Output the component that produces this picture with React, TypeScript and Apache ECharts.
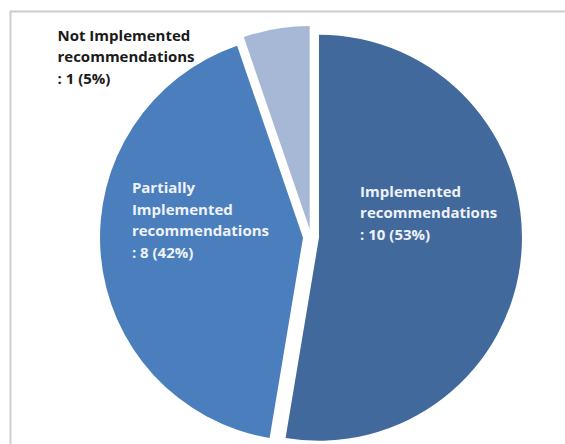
import React, { useEffect, useRef } from "react";
import * as echarts from "echarts";

const categories = [
  "Implemented\nrecommendations",
  "Partially\nImplemented\nrecommendations",
  "Not Implemented\nrecommendations",
];
const values = [10, 8, 1];
const colors = ["#41699c", "#4b7ebc", "#a7b8d6"];
const labelColors = ["#eef2f8", "#eef2f8", "#1a1a1a"];

// label shifts from the library's default inside position, in pixels
const labelShifts: [number, number][] = [
  [-63, -34],
  [-67, -27],
  [-235, -70],
];

export default function App() {
  const ref = useRef<HTMLDivElement>(null);
  useEffect(() => {
    if (!ref.current) return;
    const chart = echarts.init(ref.current, undefined, { renderer: "svg" });
    chart.setOption({
      animation: false,
      backgroundColor: "#ffffff",
      graphic: [
        {
          type: "rect",
          z: -10,
          shape: { x: 10.5, y: 11.5, width: 700, height: 600 },
          style: { fill: "none", stroke: "#cdcdcd", lineWidth: 2 },
          silent: true,
        },
      ],
      series: [
        {
          type: "pie",
          center: [311, 237],
          radius: 203,
          startAngle: 90,
          clockwise: true,
          selectedMode: "multiple",
          selectedOffset: 8,
          percentPrecision: 0,
          emphasis: { disabled: true },
          label: {
            show: true,
            position: "inside",
            formatter: "{b}\n: {c} ({d}%)",
            fontFamily: "Open Sans",
            fontWeight: "bold",
            fontSize: 15,
            lineHeight: 21.5,
          },
          labelLine: { show: false },
          labelLayout: (p: any) => {
            const s = labelShifts[p.dataIndex];
            return { dx: s[0], dy: s[1], align: "left" };
          },
          data: categories.map((name, i) => ({
            name,
            value: values[i],
            selected: true,
            itemStyle: { color: colors[i] },
            label: { color: labelColors[i] },
          })),
        },
      ],
    });
    return () => chart.dispose();
  }, []);
  return (
    <div
      ref={ref}
      style={{ position: "fixed", left: 0, top: 0, width: 565, height: 444 }}
    />
  );
}
